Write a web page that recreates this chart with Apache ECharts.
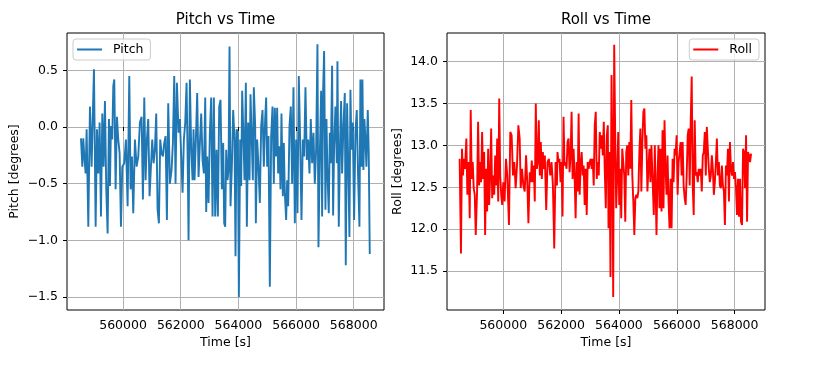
<!DOCTYPE html>
<html>
<head>
<meta charset="utf-8">
<script src="https://cdn.jsdelivr.net/npm/echarts@6/dist/echarts.min.js"></script>
<style>
html,body{margin:0;padding:0;background:#fff;}
#chart{width:814px;height:369px;}
</style>
</head>
<body>
<div id="chart"></div>
<script>
// ---- data ----
const pitchTime = [
558540,558586,558620,558655,558701,558736,558794,558851,558909,558944,558990,559048,559094,559140,559186,559233,559279,559325,559371,559417,
559464,559510,559545,559579,559625,559660,559695,559741,559787,559833,559880,559926,559972,560041,560099,560157,560215,560261,560307,560353,
560411,560469,560527,560584,560642,560688,560735,560781,560827,560873,560919,560966,561012,561058,561104,561150,561197,561243,561289,561335,
561381,561428,561474,561520,561566,561624,561682,561728,561774,561820,561867,561925,561971,562017,562063,562109,562156,562202,562248,562271,
562317,562364,562410,562444,562479,562525,562571,562618,562664,562710,562756,562803,562849,562883,562918,562964,563010,563056,563103,563149,
563195,563242,563288,563334,563380,563426,563473,563507,563542,563577,563623,563657,563692,563727,563773,563819,563865,563900,563935,563981,
564016,564062,564096,564131,564177,564212,564258,564293,564339,564385,564420,564466,564501,564535,564582,564605,564651,564697,564743,564790,
564836,564882,564928,564963,564998,565044,565090,565136,565183,565229,565263,565310,565344,565379,565425,565460,565494,565541,565575,565610,
565656,565691,565726,565772,565818,565864,565910,565957,566003,566049,566095,566141,566188,566234,566280,566326,566373,566419,566465,566511,
566557,566604,566650,566696,566742,566777,566823,566869,566904,566939,566973,567019,567054,567089,567135,567170,567204,567250,567285,567320,
567366,567412,567435,567482,567528,567562,567597,567643,567690,567724,567770,567805,567851,567886,567921,567967,568013,568059,568105,568152,
568198,568232,568267,568302,568336,568371,568406,568440,568487,568521,568556
];
const pitchValues = [
-0.10,-0.35,-0.10,-0.26,-0.41,-0.02,-0.88,0.18,-0.35,0.04,0.51,-0.88,-0.02,-0.41,0.04,-0.79,0.12,-0.35,0.23,-0.55,
-0.94,0.07,-0.52,0.01,-0.11,0.36,0.42,-0.55,0.09,-0.11,-0.23,-0.88,-0.35,-0.32,-0.11,-0.70,0.45,-0.55,-0.26,-0.76,
-0.11,-0.35,-0.26,0.04,0.09,-0.64,0.26,-0.47,-0.11,0.07,-0.61,-0.35,-0.11,-0.32,-0.20,0.12,-0.73,-0.85,-0.11,-0.23,
-0.26,-0.14,-0.08,-0.82,0.21,-0.50,-0.38,-0.14,0.45,-0.50,0.39,-0.05,0.07,-0.26,-0.58,-0.11,0.04,0.39,-0.44,-1.00,
0.42,-0.20,-0.47,-0.02,-0.47,-0.11,0.30,-0.44,-0.14,0.12,-0.29,-0.41,0.26,-0.75,-0.26,-0.67,-0.05,0.26,-0.79,0.26,
-0.79,-0.20,-0.79,0.18,0.24,-0.55,-0.14,-0.85,-0.88,-0.20,-0.47,-0.38,0.71,-0.70,-0.35,0.15,-0.11,-1.14,-0.02,-0.05,
-1.50,-0.11,-0.52,0.32,-0.11,-0.47,0.39,-0.88,0.04,-0.47,0.29,-0.14,-0.47,0.35,0.01,-0.85,-0.11,-0.35,-0.67,0.01,
0.15,-0.35,0.07,0.26,-0.35,-0.08,-1.41,-0.08,0.18,-0.50,0.17,-0.26,0.17,-0.41,-0.17,-0.55,0.12,-0.61,-0.14,-0.58,
-0.82,-0.47,-0.70,0.01,0.18,-0.50,0.35,-0.85,-0.11,-0.76,0.45,-0.11,-0.82,-0.11,-0.26,0.35,-0.29,-0.11,-0.41,0.07,
-0.32,-0.05,-0.50,-0.20,0.73,-1.06,-0.26,0.32,-0.79,0.33,0.67,-0.73,0.07,-0.41,-0.76,-0.05,-0.32,0.54,-0.78,-0.17,
0.18,-0.32,0.58,-0.88,-0.11,0.23,-0.41,0.01,0.30,-1.22,0.21,-0.26,-0.97,0.33,-0.20,0.04,-0.82,-0.05,0.15,-0.44,
-0.88,0.42,-0.35,0.42,-0.38,0.07,-0.11,-0.35,0.15,-0.23,-1.12
];
const rollTime = [
558492,558538,558573,558608,558643,558677,558724,558759,558805,558840,558875,558909,558944,558979,559014,559049,559095,559130,559165,559199,
559234,559269,559304,559339,559373,559408,559443,559478,559513,559547,559582,559617,559652,559687,559721,559756,559791,559826,559861,559895,
559930,559965,560000,560046,560093,560139,560197,560243,560290,560336,560383,560429,560475,560522,560568,560603,560649,560696,560742,560789,
560835,560870,560916,560951,560986,561021,561055,561090,561125,561160,561195,561229,561264,561299,561334,561369,561403,561438,561485,561531,
561577,561624,561670,561717,561763,561809,561856,561875,561910,561945,561980,562015,562049,562084,562119,562154,562189,562223,562258,562293,
562328,562363,562397,562432,562467,562502,562537,562571,562606,562641,562676,562711,562745,562780,562815,562850,562885,562919,562954,562989,
563024,563059,563093,563128,563163,563198,563233,563267,563302,563337,563372,563407,563441,563476,563511,563546,563581,563615,563639,563673,
563708,563743,563778,563801,563836,563871,563905,563940,563975,564010,564045,564079,564114,564149,564184,564219,564253,564288,564323,564358,
564393,564427,564462,564497,564532,564567,564601,564636,564671,564706,564741,564775,564810,564845,564880,564915,564949,564984,565019,565054,
565089,565123,565158,565205,565240,565298,565333,565367,565402,565437,565472,565507,565541,565576,565611,565646,565681,565715,565750,565785,
565820,565855,565889,565924,565959,565994,566029,566063,566098,566133,566168,566203,566237,566272,566307,566342,566377,566411,566446,566481,
566516,566551,566585,566620,566655,566690,566725,566759,566794,566829,566864,566899,566933,566968,567003,567038,567073,567107,567142,567177,
567212,567247,567281,567316,567351,567386,567421,567455,567490,567525,567560,567595,567629,567664,567699,567734,567769,567803,567838,567873,
567908,567943,567977,568012,568047,568082,568117,568151,568186,568221,568256,568291,568325,568360,568395,568430,568465,568499,568534,568569
];
const rollValues = [
12.84,11.71,12.96,12.64,12.84,12.72,13.08,12.41,12.80,12.13,13.42,12.60,12.80,12.49,12.41,11.93,12.45,13.28,12.52,12.80,
12.56,13.16,12.60,12.92,11.93,12.72,12.21,12.96,12.29,12.64,13.20,12.37,12.64,12.41,12.88,12.52,13.08,12.33,13.56,12.64,
12.41,12.29,12.56,12.33,12.84,12.64,12.05,13.16,13.12,12.64,12.80,12.49,12.76,13.24,13.08,12.49,12.72,12.52,12.45,12.88,
12.52,12.07,12.68,12.56,12.82,12.56,12.76,12.33,13.50,12.72,12.80,13.30,12.64,13.04,12.60,12.92,12.72,12.88,12.23,12.80,
12.84,12.64,12.80,12.52,11.77,12.80,12.52,12.92,12.80,12.84,12.56,12.80,12.15,13.34,12.76,12.80,12.72,13.04,13.08,12.68,
12.88,13.40,12.60,12.96,12.64,12.13,12.80,12.45,13.38,12.41,12.76,12.92,12.64,12.76,12.29,12.72,12.17,12.80,12.72,12.80,
12.84,12.72,12.84,12.52,13.24,13.40,12.60,12.80,12.64,13.16,12.96,13.12,12.88,13.28,12.68,12.25,13.12,13.24,12.01,12.92,
11.43,13.84,12.72,11.19,14.20,13.12,12.25,12.64,13.16,12.29,12.72,12.13,12.96,12.80,12.64,12.09,12.92,13.00,12.64,13.04,
12.72,13.54,12.64,12.33,11.93,12.37,12.41,12.37,12.45,12.92,13.20,12.45,13.04,13.40,13.44,12.96,13.12,12.45,12.72,12.96,
12.56,13.00,12.64,12.17,13.00,11.93,12.64,13.00,12.25,12.96,12.21,13.18,12.25,13.30,12.72,12.41,12.88,12.33,12.01,12.60,
12.01,12.84,12.56,12.96,12.88,13.12,12.41,12.80,12.92,13.04,12.64,13.04,12.52,12.37,12.29,12.64,13.12,13.20,12.52,13.28,
13.82,12.52,12.17,13.30,12.64,12.68,12.56,12.72,12.64,12.72,12.45,12.88,12.92,13.16,12.64,13.22,12.96,12.72,12.56,12.64,
12.88,12.72,12.41,12.56,12.80,13.08,12.64,12.80,12.52,12.49,12.76,12.52,12.45,12.05,12.76,12.64,12.96,12.33,13.04,12.72,
12.64,12.80,12.60,12.68,12.49,12.17,12.60,12.15,12.60,12.09,12.05,12.96,12.92,12.49,13.12,12.09,12.92,12.88,12.80,12.90
];
const xTicks = [560000, 562000, 564000, 566000, 568000];
const pitchTicks = [-1.5, -1.0, -0.5, 0.0, 0.5];
const rollTicks = [11.5, 12.0, 12.5, 13.0, 13.5, 14.0];

// ---- chart ----
const FONT = 'DejaVu Sans';
const chart = echarts.init(document.getElementById('chart'), null, {renderer: 'canvas'});
const pitchData = pitchTime.map((t, i) => [t, pitchValues[i]]);
const rollData = rollTime.map((t, i) => [t, rollValues[i]]);
const fmt = v => (v < 0 ? '\u2212' : '') + Math.abs(v).toFixed(1);

function xAxisCfg(gi) {
  return {
    type: 'value', gridIndex: gi, min: 558055, max: 569050,
    axisLine: {show: false},
    axisTick: {show: true, length: 4, customValues: xTicks, lineStyle: {color: '#000', width: 1}},
    axisLabel: {customValues: xTicks, margin: 9, color: '#000', fontSize: 12.5, fontFamily: FONT,
      formatter: v => String(Math.round(v))},
    splitLine: {show: true, lineStyle: {color: '#b0b0b0', width: 1}}
  };
}
function yAxisCfg(gi, min, max, ticks) {
  return {
    type: 'value', gridIndex: gi, min: min, max: max,
    axisLine: {show: false},
    axisTick: {show: true, length: 4, customValues: ticks, lineStyle: {color: '#000', width: 1}},
    axisLabel: {customValues: ticks, margin: 9, color: '#000', fontSize: 12.5, fontFamily: FONT, formatter: fmt},
    splitLine: {show: true, lineStyle: {color: '#b0b0b0', width: 1}}
  };
}
function legendCfg(name, pos) {
  return Object.assign({
    data: [name], top: 39, orient: 'vertical',
    icon: 'rect', itemWidth: 25, itemHeight: 2,
    padding: [4, 7, 4, 4],
    borderColor: '#cccccc', borderWidth: 1, borderRadius: 3,
    backgroundColor: 'rgba(255,255,255,0.8)',
    textStyle: {color: '#000', fontSize: 12.5, fontFamily: FONT, padding: [0, 0, 0, 6]},
    selectedMode: false
  }, pos);
}
const txt = (text, x, y, size, rot) => ({
  type: 'text', x: x, y: y, rotation: rot || 0,
  style: {text: text, fill: '#000', fontSize: size, fontFamily: FONT, align: 'center', verticalAlign: 'middle'}
});

chart.setOption({
  animation: false,
  backgroundColor: '#fff',
  grid: [
    {left: 67, top: 33, width: 317, height: 277, show: true, borderColor: '#000', borderWidth: 1, backgroundColor: 'transparent'},
    {left: 447, top: 33, width: 318, height: 277, show: true, borderColor: '#000', borderWidth: 1, backgroundColor: 'transparent'}
  ],
  xAxis: [xAxisCfg(0), xAxisCfg(1)],
  yAxis: [yAxisCfg(0, -1.615, 0.83, pitchTicks), yAxisCfg(1, 11.036, 14.34, rollTicks)],
  legend: [legendCfg('Pitch', {left: 73}), legendCfg('Roll', {right: 55})],
  graphic: [
    txt('Pitch vs Time', 225.5, 20, 15),
    txt('Roll vs Time', 606, 20, 15),
    txt('Time [s]', 225.5, 343, 12.5),
    txt('Time [s]', 606, 343, 12.5),
    txt('Pitch [degrees]', 15, 171.5, 12.5, Math.PI / 2),
    txt('Roll [degrees]', 398, 171.5, 12.5, Math.PI / 2)
  ],
  series: [
    {name: 'Pitch', type: 'line', xAxisIndex: 0, yAxisIndex: 0, data: pitchData, showSymbol: false,
      symbol: 'none', lineStyle: {color: '#1f77b4', width: 1.9}, itemStyle: {color: '#1f77b4'}},
    {name: 'Roll', type: 'line', xAxisIndex: 1, yAxisIndex: 1, data: rollData, showSymbol: false,
      symbol: 'none', lineStyle: {color: '#ff0000', width: 1.9}, itemStyle: {color: '#ff0000'}}
  ]
});
</script>
</body>
</html>
